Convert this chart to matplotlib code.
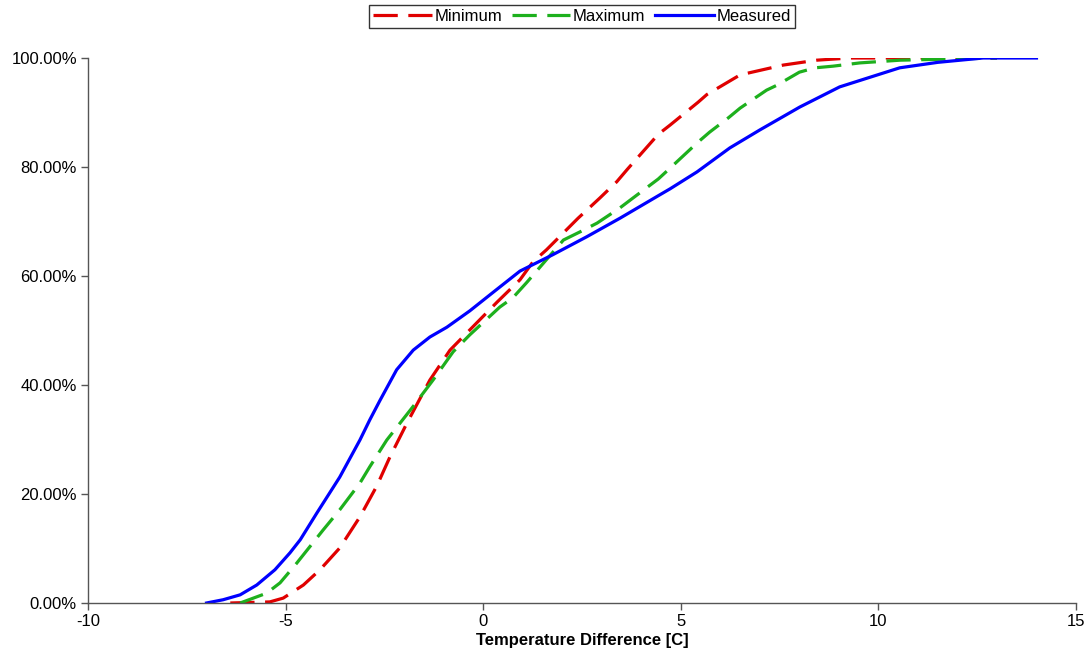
import matplotlib
matplotlib.use("Agg")
import matplotlib.pyplot as plt
from matplotlib.ticker import FuncFormatter

plt.rcParams['font.family'] = ['Liberation Sans', 'DejaVu Sans']
plt.rcParams['axes.unicode_minus'] = False

min_x = [-6.4, -5.4, -5.06, -4.55, -4.13, -3.63, -3.12, -2.69, -2.36, -1.93, -1.35, -0.84, 0.35,
         0.93, 1.26, 1.6, 2.4, 2.95, 3.38, 3.65, 4.43, 4.73, 5.44, 5.66, 6.5, 7.59, 8.44, 9.28, 13.0]
min_y = [0.0, 0.2, 0.9, 3.3, 6.1, 10.1, 15.8, 21.5, 26.8, 33.0, 40.9, 46.4, 55.2,
         59.3, 62.6, 64.8, 70.6, 74.3, 77.3, 79.6, 86.0, 87.7, 91.9, 93.3, 96.9, 98.7, 99.6, 100.0, 100.0]

max_x = [-6.15, -5.48, -5.14, -4.72, -4.05, -3.63, -3.12, -2.87, -2.44, -1.78, -1.27, -0.76, -0.34,
         0.42, 0.75, 1.1, 1.6, 2.03, 2.45, 2.88, 3.46, 3.77, 4.43, 4.73, 5.41, 5.73, 6.2, 6.5, 7.17,
         7.43, 8.0, 8.4, 8.85, 9.53, 10.55, 13.0]
max_y = [0.0, 1.8, 3.7, 7.3, 13.4, 17.1, 22.0, 25.0, 29.9, 36.0, 40.9, 46.1, 49.2,
         54.3, 56.0, 58.8, 63.0, 66.6, 68.1, 69.7, 72.5, 74.2, 77.8, 79.8, 84.4, 86.4, 89.0, 90.8, 94.1,
         95.0, 97.4, 98.2, 98.5, 99.1, 99.6, 100.0]

meas_x = [-7.0, -6.58, -6.15, -5.73, -5.27, -4.89, -4.63, -4.21, -3.63, -3.12, -2.87, -2.61, -2.19,
          -1.77, -1.35, -0.92, -0.34, 0.25, 0.93, 1.76, 2.62, 3.46, 4.47, 4.73, 5.41, 6.24,
          7.0, 8.01, 9.02, 10.54, 11.5, 12.65, 14.0]
meas_y = [0.0, 0.6, 1.5, 3.3, 6.1, 9.2, 11.6, 16.5, 23.1, 29.9, 33.6, 37.2, 42.8,
          46.4, 48.8, 50.6, 53.6, 57.0, 60.9, 63.9, 67.2, 70.6, 74.9, 76.0, 79.1, 83.5,
          86.8, 91.0, 94.7, 98.2, 99.2, 100.0, 100.0]

fig = plt.figure(figsize=(10.9, 6.66), dpi=100)
ax = fig.add_axes([88/1090, 1-603/666, (1076-88)/1090, (603-58)/666])

lw = 2.3
dash = (7.6, 3.3)
ax.plot(min_x, min_y, color='#E00000', lw=lw, dashes=dash, label='Minimum',
        solid_joinstyle='round', dash_joinstyle='round')
ax.plot(max_x, max_y, color='#1DB01D', lw=lw, dashes=dash, label='Maximum',
        solid_joinstyle='round', dash_joinstyle='round')
ax.plot(meas_x, meas_y, color='#0000FF', lw=lw, label='Measured',
        solid_joinstyle='round')

ax.set_xlim(-10, 15)
ax.set_ylim(0, 100)
ax.set_xticks([-10, -5, 0, 5, 10, 15])
ax.set_yticks([0, 20, 40, 60, 80, 100])
ax.yaxis.set_major_formatter(FuncFormatter(lambda v, p: f"{v:.2f}%"))
for s in ['top', 'right']:
    ax.spines[s].set_visible(False)
for s in ['left', 'bottom']:
    ax.spines[s].set_color('#555555')
    ax.spines[s].set_linewidth(1.0)
ax.tick_params(direction='out', length=5, width=1, color='#555555', labelsize=12, pad=3)
ax.set_xlabel('Temperature Difference [C]', fontsize=12, fontweight='bold', labelpad=3)

leg = fig.legend(loc='upper center', bbox_to_anchor=(582/1090, 1-5/666), ncol=3, fontsize=12,
                 frameon=True, fancybox=False, edgecolor='black', handlelength=3.5,
                 handletextpad=0.15, columnspacing=0.6, borderpad=0.25, borderaxespad=0)
leg.get_frame().set_linewidth(1.0)

fig.savefig('out.png', dpi=100)
